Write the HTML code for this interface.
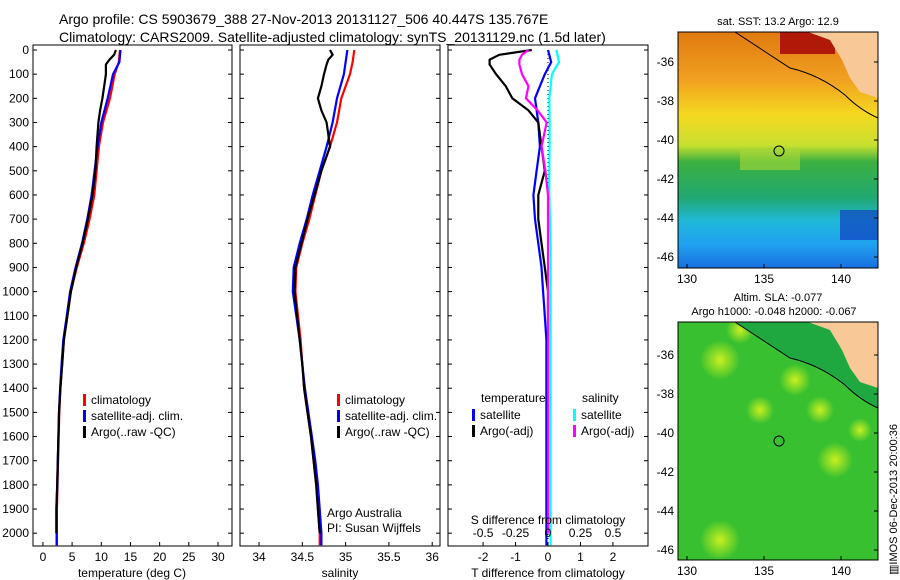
<!DOCTYPE html>
<html><head><meta charset="utf-8"><style>
body{margin:0;background:#fff;}
svg{display:block;font-family:"Liberation Sans",sans-serif;}
text{fill:#000;font-size:12px;}
</style></head><body>
<svg id="c" width="900" height="580" viewBox="0 0 900 580" xmlns="http://www.w3.org/2000/svg">
<defs>
<linearGradient id="sstg" x1="0" y1="0" x2="0" y2="1">
<stop offset="0" stop-color="#e07a10"/><stop offset="0.2" stop-color="#f0a020"/><stop offset="0.35" stop-color="#f5d820"/><stop offset="0.48" stop-color="#c8e030"/><stop offset="0.55" stop-color="#3cb040"/><stop offset="0.7" stop-color="#20a870"/><stop offset="0.8" stop-color="#20b8d8"/><stop offset="0.9" stop-color="#20a0f0"/><stop offset="1" stop-color="#1870e0"/>
</linearGradient>
<radialGradient id="blob"><stop offset="0" stop-color="#c8f020"/><stop offset="1" stop-color="#c8f020" stop-opacity="0"/></radialGradient>
<clipPath id="m1"><rect x="678" y="32" width="200" height="236"/></clipPath>
<clipPath id="m2"><rect x="678" y="322" width="200" height="238"/></clipPath>
</defs>
<text x="59" y="24" style="font-size:14px">Argo profile: CS 5903679_388 27-Nov-2013 20131127_506 40.447S 135.767E</text>
<text x="59" y="42" style="font-size:14px">Climatology: CARS2009. Satellite-adjusted climatology: synTS_20131129.nc (1.5d later)</text>
<g id="maps">
<g clip-path="url(#m1)">
<rect x="678" y="32" width="200" height="236" fill="url(#sstg)"/>
<rect x="780" y="32" width="55" height="22" fill="#b01808"/>
<rect x="740" y="150" width="60" height="20" fill="#a8d838" opacity="0.6"/>
<rect x="840" y="210" width="38" height="30" fill="#1040c0" opacity="0.7"/>
<path d="M808,32 L830,40 L842,60 L850,78 L860,92 L878,98 L878,32 Z" fill="#f8c896"/>
<path d="M735,32 Q770,55 790,68 Q820,75 845,95 Q860,110 878,118" fill="none" stroke="#000" stroke-width="1"/>
<circle cx="779" cy="151" r="5" fill="none" stroke="#000"/>
</g>
<rect x="678" y="32" width="200" height="236" fill="none" stroke="#000"/>
<text x="778" y="25" text-anchor="middle" style="font-size:11px">sat. SST: 13.2 Argo: 12.9</text>
<g clip-path="url(#m2)">
<rect x="678" y="322" width="200" height="238" fill="#38c030"/>
<circle cx="795" cy="380" r="16" fill="url(#blob)"/><circle cx="720" cy="360" r="20" fill="url(#blob)"/>
<circle cx="835" cy="460" r="18" fill="url(#blob)"/><circle cx="820" cy="410" r="14" fill="url(#blob)"/>
<circle cx="760" cy="410" r="14" fill="url(#blob)"/><circle cx="720" cy="540" r="20" fill="url(#blob)"/>
<circle cx="740" cy="330" r="14" fill="url(#blob)"/><circle cx="860" cy="430" r="12" fill="url(#blob)"/>
<path d="M735,322 Q770,345 790,358 Q820,365 845,385 Q860,400 878,408 L878,322 Z" fill="#20a840"/>
<path d="M808,322 L830,330 L842,350 L850,368 L860,382 L878,388 L878,322 Z" fill="#f8c896"/>
<path d="M735,322 Q770,345 790,358 Q820,365 845,385 Q860,400 878,408" fill="none" stroke="#000" stroke-width="1"/>
<circle cx="779" cy="441" r="5" fill="none" stroke="#000"/>
</g>
<rect x="678" y="322" width="200" height="238" fill="none" stroke="#000"/>
<text x="778" y="301" text-anchor="middle" style="font-size:11px">Altim. SLA: -0.077</text>
<text x="774" y="315" text-anchor="middle" style="font-size:11px">Argo h1000: -0.048 h2000: -0.067</text>
<text transform="translate(897,575) rotate(-90)" style="font-size:11px">▥IMOS 06-Dec-2013 20:00:36</text>
</g>
</svg>
<script>
const depthClim=[0,50,100,200,300,400,500,600,700,800,900,1000,1100,1200,1300,1400,1500,1600,1700,1800,1900,2000,2050];
const tempClim=[13.2,13.0,12.3,11.5,10.3,9.6,9.2,8.8,8.0,7.0,5.8,4.8,4.2,3.6,3.3,3.0,2.8,2.7,2.6,2.5,2.4,2.4,2.4];
const tempSat=[13.3,13.1,12.0,11.1,10.0,9.35,8.85,8.35,7.6,6.7,5.6,4.65,4.1,3.5,3.2,2.95,2.75,2.65,2.55,2.45,2.35,2.35,2.35];
const salClim=[35.1,35.08,35.05,34.95,34.9,34.82,34.72,34.65,34.58,34.5,34.43,34.42,34.45,34.48,34.5,34.52,34.56,34.6,34.63,34.66,34.68,34.7,34.7];
const salSat=[35.02,35.0,34.98,34.9,34.85,34.78,34.7,34.62,34.55,34.47,34.4,34.39,34.43,34.47,34.5,34.53,34.57,34.61,34.65,34.68,34.7,34.72,34.72];
const depthArgo=[0,20,40,60,100,150,200,250,300,400,500,600,700,800,900,1000,1100,1200,1300,1400,1500,1600,1700,1800,1900,2000];
const tempArgo=[12.5,12.2,11.4,10.8,10.8,10.5,10.2,9.8,9.5,9.2,9.0,8.5,7.7,6.8,5.7,4.8,4.2,3.6,3.3,3.0,2.75,2.65,2.55,2.45,2.3,2.3];
const salArgo=[34.82,34.85,34.8,34.78,34.75,34.72,34.68,34.72,34.78,34.82,34.72,34.64,34.56,34.49,34.42,34.41,34.44,34.47,34.5,34.52,34.56,34.6,34.63,34.66,34.68,34.7];
const dTsat=[0,0.1,-0.1,-0.4,-0.3,-0.25,-0.35,-0.45,-0.4,-0.3,-0.2,-0.15,-0.1,-0.05,-0.05,-0.05,-0.05,-0.05,-0.05,-0.05,-0.05,-0.05,-0.05];
const dSsat=[0.065,0.085,0.03,0.01,0.012,0.012,0.01,0.01,0.015,0.02,0.02,0.02,0.02,0.02,0.02,0.02,0.02,0.02,0.02,0.02,0.02,0.02,0.02];
const dTargo=[-0.5,-1.5,-1.8,-1.8,-1.6,-1.3,-1.1,-0.6,-0.3,-0.2,-0.1,-0.3,-0.3,-0.2,-0.1,0,0,0,0,0,0,0,0,0,0,0];
const dSargo=[-0.15,-0.2,-0.22,-0.22,-0.2,-0.15,-0.17,-0.08,-0.01,-0.05,-0.02,0,0,0,0,0,0,0,0,0,0,0,0,0,0,0];
const depthTicks=[0,100,200,300,400,500,600,700,800,900,1000,1100,1200,1300,1400,1500,1600,1700,1800,1900,2000];
const tTicks=[0,5,10,15,20,25,30];
const sTicks=[34,34.5,35,35.5,36];
const dTticks=[-2,-1,0,1,2];
const dSticks=[-0.5,-0.25,0,0.25,0.5];
const dSlabels=["-0.5","-0.25","0","0.25","0.5"];

const NS='http://www.w3.org/2000/svg';
const svg=document.getElementById('c');
const Y0=50,Y1=546,DMAX=2053;
const yS=d=>Y0+d/DMAX*(Y1-Y0);
function mk(tag,at,parent){const e=document.createElementNS(NS,tag);for(const k in at)e.setAttribute(k,at[k]);(parent||svg).appendChild(e);return e;}
function txt(x,y,s,anchor,parent){const t=mk('text',{x:x,y:y,'text-anchor':anchor||'start'},parent);t.textContent=s;return t;}
function panel(name,x0,x1,lo,hi){
  const g=mk('g',{});
  
  
  const fr=mk('rect',{x:x0,y:Y0-5,width:x1-x0,height:Y1-Y0+5,fill:'none',stroke:'#000'},g);
  
  
  return {g:g,x:v=>x0+(v-lo)/(hi-lo)*(x1-x0),x0:x0,x1:x1};
}
function line(p,xs,ys,col,name,w){
  const pts=xs.map((v,i)=>p.x(v).toFixed(1)+','+yS(ys[i]).toFixed(1)).join(' ');
  const l=mk('polyline',{points:pts,fill:'none',stroke:col,'stroke-width':w||2.2},p.g);
  
  
}
function xTicks(p,ticks,labels,yl,top){
  ticks.forEach((t,i)=>{
    mk('line',{x1:p.x(t),x2:p.x(t),y1:Y1,y2:Y1-4,stroke:'#000'},p.g);
    const tl=txt(p.x(t),yl,labels?labels[i]:String(t),'middle',p.g);
    
    
  });
}
function yTicks(p,withLabels){
  depthTicks.forEach(d=>{
    mk('line',{x1:p.x0,x2:p.x0+4,y1:yS(d),y2:yS(d),stroke:'#000'},p.g);
    mk('line',{x1:p.x1,x2:p.x1-4,y1:yS(d),y2:yS(d),stroke:'#000'},p.g);
    if(withLabels){const tl=txt(p.x0-4,yS(d)+4,String(d),'end',p.g);
      
      }
  });
}
function legend(p,x,y,items){
  items.forEach((it,i)=>{
    mk('rect',{x:x,y:y+i*16-9,width:3,height:12,fill:it[0]},p.g);
    const t=txt(x+8,y+i*16+1,it[1],'start',p.g);
    
    
  });
}
// Panel 1 temperature
const p1=panel('temperature-panel',33,232,-1.7,32.4);
yTicks(p1,true);xTicks(p1,tTicks,null,561);
line(p1,tempClim,depthClim,'#f00','temp-climatology-line');
line(p1,tempSat,depthClim,'#00f','temp-satellite-line');
line(p1,tempArgo,depthArgo,'#000','temp-argo-line');
legend(p1,83,403,[['#f00','climatology'],['#00f','satellite-adj. clim.'],['#000','Argo(..raw -QC)']]);
txt(132,577,'temperature (deg C)','middle',p1.g);
// Panel 2 salinity
const p2=panel('salinity-panel',240,440,33.78,36.09);
yTicks(p2,false);xTicks(p2,sTicks,null,561);
line(p2,salClim,depthClim,'#f00','sal-climatology-line');
line(p2,salSat,depthClim,'#00f','sal-satellite-line');
line(p2,salArgo,depthArgo,'#000','sal-argo-line');
legend(p2,337,403,[['#f00','climatology'],['#00f','satellite-adj. clim.'],['#000','Argo(..raw -QC)']]);
txt(327,517,'Argo Australia','start',p2.g);txt(327,532,'PI: Susan Wijffels','start',p2.g);
txt(340,577,'salinity','middle',p2.g);
// Panel 3 differences
const p3=panel('difference-panel',448,648,-3.08,3.08);
yTicks(p3,false);xTicks(p3,dTticks,null,561);
const zl=mk('line',{x1:p3.x(0),x2:p3.x(0),y1:Y0,y2:Y1,stroke:'#000','stroke-dasharray':'1,3'},p3.g);
line(p3,dTsat,depthClim,'#00f','dT-satellite-line');
line(p3,dSsat.map(v=>v*4),depthClim,'#0ff','dS-satellite-line');
line(p3,dTargo,depthArgo,'#000','dT-argo-line');
line(p3,dSargo.map(v=>v*4),depthArgo,'#f0f','dS-argo-line');
dSticks.forEach((t,i)=>{const tl=txt(p3.x(t*4),537,dSlabels[i],'middle',p3.g);
  
  });
txt(548,524,'S difference from climatology','middle',p3.g);
txt(548,577,'T difference from climatology','middle',p3.g);
txt(481,402,'temperature','start',p3.g);txt(582,402,'salinity','start',p3.g);
legend(p3,472,418,[['#00f','satellite'],['#000','Argo(-adj)']]);
legend(p3,573,418,[['#0ff','satellite'],['#f0f','Argo(-adj)']]);
// map ticks
const latT=[-36,-38,-40,-42,-44,-46],lonT=[130,135,140];
[[32,268,62,257],[322,560,355,550]].forEach((m,k)=>{
  latT.forEach((l,i)=>{const y=m[2]+(m[3]-m[2])*i/5;
    mk('line',{x1:878,x2:874,y1:y,y2:y,stroke:'#000'});
    const t=txt(674,y+4,String(l),'end');
    
    });
  lonT.forEach((l,i)=>{const x=687+(841-687)*(l-130)/10;
    mk('line',{x1:x,x2:x,y1:m[1],y2:m[1]-4,stroke:'#000'});
    const t=txt(x,m[1]+15,String(l),'middle');
    
    });
});
</script>
</body></html>
